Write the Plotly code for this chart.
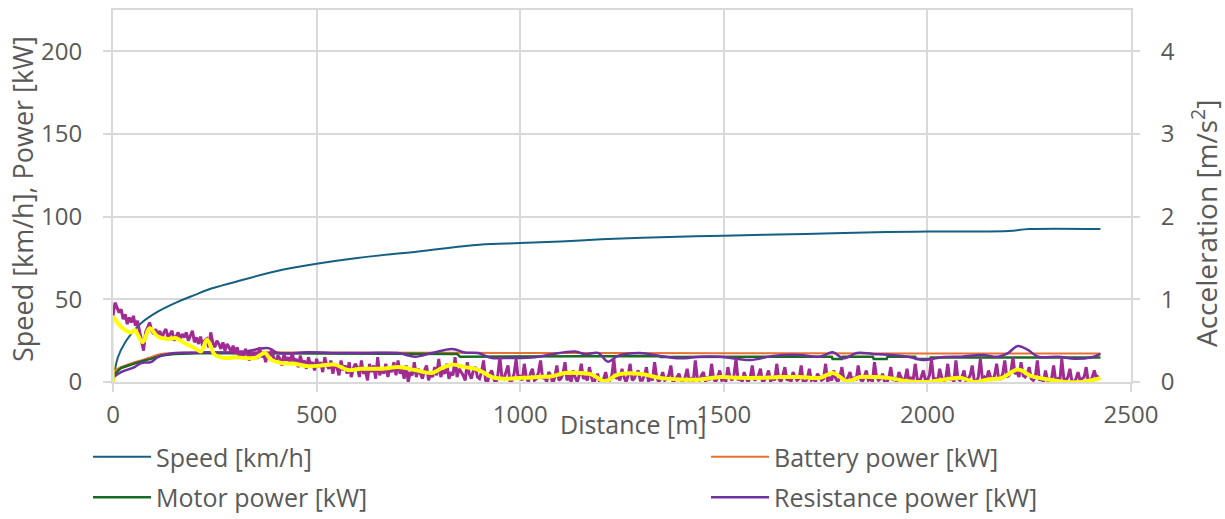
import plotly.graph_objects as go

# ---------------- data ----------------
speed_dist = [0, 12, 29, 53, 69, 110, 152, 201, 233, 300, 400, 500, 600, 750, 900, 1000,
              1100, 1200, 1300, 1500, 1700, 1900, 2000, 2100, 2200, 2250, 2425]
speed_kmh = [0, 15, 23.6, 31.5, 35.6, 42.5, 47.7, 52.7, 55.8, 60.5, 67, 71.5, 75, 79, 83, 84,
             85, 86.3, 87.3, 88.5, 89.5, 90.7, 91, 91, 91.3, 92.5, 92.5]

battery_dist = [0, 1, 20, 53, 69, 93, 118, 152, 233, 500, 1000, 1500, 2000, 2425]
battery_kw = [0, 6, 9, 12, 13, 15, 17, 17.5, 18, 17.8, 17.6, 17.4, 17.3, 17.2]

motor_dist = [0, 1, 20, 53, 69, 93, 118, 152, 233, 500, 705, 845, 852, 918, 925, 1340,
              1345, 1687, 1765, 1767, 1790, 1792, 1866, 1868, 1900, 1902, 1970, 1972, 2006,
              2008, 2425]
motor_kw = [0, 4, 8.5, 11.5, 12.5, 14, 16, 17, 17.5, 17.2, 17, 17, 15.3, 15.3, 15.7, 15.7,
            15.1, 15.1, 15.3, 13.9, 13.9, 15.3, 15.3, 13.9, 13.9, 15.3, 15.3, 13.9, 13.9,
            14.8, 14.8]

resist_dist = [0, 1, 20, 53, 69, 93, 110, 152, 201, 233, 314, 381, 405, 479, 560, 619, 700,
               742, 783, 833, 864, 896, 931, 963, 1004, 1044, 1078, 1135, 1160, 1191, 1216,
               1240, 1294, 1343, 1392, 1442, 1491, 1565, 1621, 1687, 1736, 1768, 1793, 1827,
               1866, 1913, 1952, 1994, 2035, 2084, 2134, 2174, 2198, 2222, 2247, 2272, 2321,
               2362, 2404, 2425]
resist_kw = [0, 2.5, 6, 9, 11.5, 12, 15, 17.5, 17.7, 18, 18, 20.5, 17.5, 18, 17.5, 17.5, 17.5,
             15.3, 17.5, 20, 17.8, 17.5, 14.5, 14.5, 14.5, 15.2, 16.8, 18.4, 16.8, 17.6, 12.3,
             15.8, 17.5, 15.8, 14.3, 15.3, 15.3, 13.3, 15.8, 16.4, 15.3, 18, 14.3, 17.5,
             17, 16.4, 15.3, 13.3, 15, 15.3, 16.4, 15.3, 17.5, 21.8, 19.4, 15.3, 15.3,
             14, 15, 17]

# raw acceleration [m/s2], one value every 5 m (rows of 100 m)
accel_raw = [
    0.80, 0.96, 0.90, 0.84, 0.88, 0.76, 0.82, 0.70, 0.78, 0.72, 0.80, 0.68, 0.74, 0.62, 0.50, 0.38, 0.60, 0.66, 0.72, 0.62,
    0.58, 0.64, 0.56, 0.62, 0.52, 0.60, 0.64, 0.54, 0.58, 0.62, 0.50, 0.56, 0.60, 0.52, 0.58, 0.54, 0.60, 0.50, 0.56, 0.62,
    0.48, 0.54, 0.46, 0.55, 0.44, 0.50, 0.52, 0.42, 0.60, 0.48, 0.42, 0.50, 0.46, 0.40, 0.48, 0.38, 0.46, 0.42, 0.36, 0.44,
    0.34, 0.42, 0.30, 0.38, 0.28, 0.40, 0.34, 0.26, 0.38, 0.32, 0.36, 0.28, 0.42, 0.30, 0.34, 0.24, 0.36, 0.30, 0.40, 0.28,
    0.24, 0.32, 0.28, 0.20, 0.34, 0.26, 0.30, 0.22, 0.36, 0.24, 0.28, 0.18, 0.32, 0.22, 0.26, 0.16, 0.30, 0.20, 0.24, 0.14,
    0.28, 0.18, 0.24, 0.12, 0.30, 0.20, 0.16, 0.26, 0.10, 0.22, 0.18, 0.08, 0.26, 0.14, 0.20, 0.10, 0.24, 0.06, 0.16, 0.22,
    0.18, 0.06, 0.26, 0.10, 0.14, 0.02, 0.22, 0.12, 0.20, 0.04, 0.30, 0.08, 0.16, 0.10, 0.22, 0.06, 0.18, 0.12, 0.24, 0.08,
    0.26, 0.10, 0.16, 0.04, 0.20, 0.00, 0.12, 0.08, 0.24, 0.06, 0.16, 0.10, 0.04, 0.14, 0.20, 0.02, 0.10, 0.06, 0.18, 0.08,
    0.28, 0.06, 0.14, 0.10, 0.22, 0.04, 0.12, 0.08, 0.30, 0.06, 0.16, 0.12, 0.08, 0.02, 0.24, 0.10, 0.04, 0.14, 0.18, 0.06,
    0.04, 0.12, 0.26, 0.02, 0.00, 0.10, 0.14, 0.04, -0.02, 0.08, 0.30, 0.06, 0.04, 0.12, 0.20, 0.00, 0.02, 0.10, 0.28, 0.04,
    0.08, 0.02, 0.22, 0.06, 0.00, 0.10, 0.16, 0.02, 0.04, 0.12, 0.26, 0.04, 0.06, 0.00, 0.12, 0.08, -0.02, 0.06, 0.20, 0.02,
    0.04, 0.10, 0.24, 0.02, 0.08, 0.00, 0.14, 0.06, 0.00, 0.08, 0.22, 0.04, 0.06, 0.02, 0.18, 0.06, -0.02, 0.04, 0.10, 0.00,
    -0.03, 0.04, 0.12, 0.00, 0.02, 0.08, 0.28, 0.04, 0.06, 0.02, 0.16, 0.06, 0.00, 0.08, 0.22, 0.02, 0.04, 0.10, 0.14, 0.02,
    0.02, 0.08, 0.18, 0.00, 0.06, 0.02, 0.24, 0.06, 0.00, 0.04, 0.12, 0.02, 0.04, 0.08, 0.20, 0.00, 0.02, 0.06, 0.10, 0.02,
    0.00, 0.06, 0.16, 0.02, 0.04, 0.00, 0.26, 0.04, 0.02, 0.08, 0.12, 0.00, 0.06, 0.02, 0.22, 0.04, 0.00, 0.06, 0.14, 0.02,
    0.04, 0.00, 0.18, 0.06, 0.02, 0.08, 0.28, 0.02, 0.06, 0.00, 0.12, 0.04, 0.00, 0.06, 0.20, 0.02, 0.04, 0.08, 0.16, 0.00,
    0.02, 0.06, 0.14, 0.00, 0.06, 0.02, 0.22, 0.04, 0.00, 0.08, 0.18, 0.02, 0.04, 0.00, 0.12, 0.06, 0.02, 0.04, 0.20, 0.00,
    0.00, 0.04, 0.16, 0.02, 0.04, 0.00, 0.10, 0.06, 0.02, 0.04, 0.22, 0.00, 0.06, 0.02, 0.14, 0.04, 0.00, 0.06, 0.18, 0.02,
    0.02, 0.06, 0.12, 0.00, 0.06, 0.02, 0.20, 0.04, 0.00, 0.06, 0.14, 0.02, 0.04, 0.00, 0.24, 0.06, 0.02, 0.04, 0.10, 0.00,
    0.00, 0.04, 0.18, 0.02, 0.04, 0.00, 0.12, 0.06, 0.02, 0.04, 0.16, 0.00, 0.06, 0.02, 0.22, 0.04, 0.00, 0.06, 0.14, 0.02,
    0.02, 0.08, 0.28, 0.04, 0.04, 0.00, 0.16, 0.06, 0.00, 0.04, 0.22, 0.02, 0.06, 0.00, 0.26, 0.04, 0.02, 0.06, 0.14, 0.00,
    0.04, 0.08, 0.20, 0.02, 0.00, 0.06, 0.28, 0.04, 0.06, 0.02, 0.14, 0.06, 0.02, 0.08, 0.22, 0.04, 0.04, 0.10, 0.26, 0.06,
    0.08, 0.12, 0.30, 0.10, 0.12, 0.06, 0.24, 0.08, 0.06, 0.10, 0.18, 0.04, 0.02, 0.06, 0.26, 0.02, 0.04, 0.00, 0.14, 0.02,
    0.00, 0.04, 0.20, 0.02, 0.04, 0.00, 0.28, 0.04, 0.02, 0.06, 0.16, 0.00, 0.00, 0.04, 0.12, 0.02, 0.04, 0.06, 0.18, 0.00,
    0.02, 0.06, 0.14, 0.04, 0.08,
]
accel_raw_dist = [5 * i for i in range(len(accel_raw))]

# smoothed acceleration [m/s2]
accel_smooth_dist = [0, 1, 12, 29, 44, 53, 73, 90, 110, 135, 155, 176, 201, 216, 231, 250, 275,
                     300, 324, 349, 373, 388, 413, 447, 479, 511, 545, 577, 609, 660, 700, 742,
                     783, 808, 833, 864, 896, 931, 963, 1004, 1044, 1078, 1110, 1142, 1176,
                     1208, 1240, 1294, 1343, 1392, 1442, 1491, 1540, 1589, 1638, 1687, 1736,
                     1768, 1803, 1835, 1871, 1903, 1952, 2001, 2043, 2083, 2116, 2148, 2183,
                     2222, 2256, 2297, 2338, 2379, 2412, 2425]
accel_smooth = [0, 0.78, 0.71, 0.63, 0.60, 0.63, 0.48, 0.65, 0.55, 0.52, 0.53, 0.47, 0.41,
                0.37, 0.51, 0.33, 0.29, 0.30, 0.29, 0.29, 0.35, 0.27, 0.23, 0.22, 0.19, 0.20,
                0.21, 0.145, 0.16, 0.16, 0.18, 0.145, 0.11, 0.17, 0.21, 0.18, 0.15, 0.06,
                0.04, 0.05, 0.06, 0.07, 0.11, 0.11, 0.09, 0.01, 0.09, 0.10, 0.05, 0.03, 0.03,
                0.06, 0.05, 0.05, 0.06, 0.06, 0.05, 0.11, 0.01, 0.06, 0.06, 0.05, 0.01, 0.0,
                0.03, 0.05, 0.0, 0.03, 0.05, 0.15, 0.07, 0.03, 0.0, 0.0, 0.03, 0.05]

x_ticks = [0, 500, 1000, 1500, 2000, 2500]
y_ticks = [0, 50, 100, 150, 200]
y2_ticks = [0, 1, 2, 3, 4]

# ---------------- figure ----------------
FONT = "Open Sans"
TXT = "#595959"
GRID = "#d9d9d9"

fig = go.Figure()

fig.add_trace(go.Scatter(x=speed_dist, y=speed_kmh, name="Speed [km/h]", mode="lines",
                         line=dict(color="#156082", width=2, shape="spline"),
                         legend="legend", legendgroup="a"))
fig.add_trace(go.Scatter(x=battery_dist, y=battery_kw, name="Battery power [kW]", mode="lines",
                         line=dict(color="#E97132", width=2, shape="spline"),
                         legend="legend2", legendgroup="b"))
fig.add_trace(go.Scatter(x=motor_dist, y=motor_kw, name="Motor power [kW]", mode="lines",
                         line=dict(color="#196B24", width=2.5),
                         legend="legend", legendgroup="c"))
fig.add_trace(go.Scatter(x=resist_dist, y=resist_kw, name="Resistance power [kW]", mode="lines",
                         line=dict(color="#7030A0", width=2.5, shape="spline"),
                         legend="legend2", legendgroup="d"))
fig.add_trace(go.Scatter(x=accel_raw_dist, y=accel_raw, name="Acceleration", mode="lines",
                         line=dict(color="#A02B93", width=3), yaxis="y2", showlegend=False))
fig.add_trace(go.Scatter(x=accel_smooth_dist, y=accel_smooth, name="Acceleration (smoothed)",
                         mode="lines", line=dict(color="#FFFF00", width=4, shape="spline"),
                         yaxis="y2", showlegend=False))

axis_common = dict(showgrid=True, gridcolor=GRID, gridwidth=2, showline=True, linecolor=GRID,
                   linewidth=2, ticks="outside", ticklen=8, tickcolor=GRID, tickwidth=2,
                   zeroline=False, tickfont=dict(family=FONT, size=24, color=TXT))

legend_common = dict(orientation="v", font=dict(family=FONT, size=25, color=TXT),
                     itemwidth=58, bgcolor="rgba(0,0,0,0)", tracegroupgap=5,
                     xanchor="left", yanchor="top", traceorder="grouped")

fig.update_layout(
    width=1225, height=519,
    margin=dict(l=113, r=94, t=10, b=137, autoexpand=False),
    paper_bgcolor="white", plot_bgcolor="white",
    font=dict(family=FONT, color=TXT),
    xaxis=dict(range=[0, 2500], tickvals=x_ticks, **axis_common, mirror=True,
               ticklabelstandoff=2),
    yaxis=dict(range=[0, 225], tickvals=y_ticks, **axis_common, mirror=True,
               ticklabelstandoff=16),
    yaxis2=dict(range=[0, 4.5], tickvals=y2_ticks, overlaying="y", side="right",
                showgrid=False, showline=False, ticks="outside", ticklen=8, tickcolor=GRID,
                tickwidth=2, zeroline=False, tickfont=dict(family=FONT, size=24, color=TXT),
                ticklabelstandoff=16),
    legend=dict(x=(88 - 113) / 1018, y=(382 - 434) / 372, **legend_common),
    legend2=dict(x=(706 - 113) / 1018, y=(382 - 434) / 372, **legend_common),
    annotations=[
        dict(text="Distance [m]", xref="paper", yref="paper", x=(633 - 113) / 1018,
             y=(382 - 424) / 372, xanchor="center", yanchor="middle", showarrow=False,
             font=dict(family=FONT, size=25, color=TXT)),
        dict(text="Speed [km/h], Power [kW]", xref="paper", yref="paper",
             x=(22 - 113) / 1018, y=(382 - 199) / 372, xanchor="center", yanchor="middle",
             textangle=-90, showarrow=False, font=dict(family=FONT, size=27, color=TXT)),
        dict(text="Acceleration [m/s<sup>2</sup>]", xref="paper", yref="paper",
             x=(1205 - 113) / 1018, y=(382 - 224) / 372, xanchor="center", yanchor="middle",
             textangle=-90, showarrow=False, font=dict(family=FONT, size=28, color=TXT)),
    ],
)

fig.write_html("out.html")
